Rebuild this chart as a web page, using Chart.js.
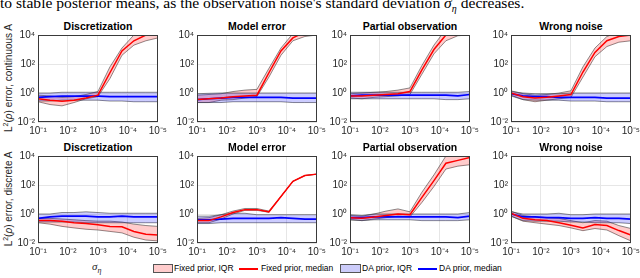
<!DOCTYPE html>
<html>
<head>
<meta charset="utf-8">
<script src="https://cdn.jsdelivr.net/npm/chart.js@4.4.0/dist/chart.umd.min.js"></script>
<style>
  body { margin:0; width:640px; height:278px; overflow:hidden; background:#fff; position:relative;
         font-family:"Liberation Sans", Arial, sans-serif; }
  canvas { position:absolute; }
  .title { position:absolute; width:160px; text-align:center; font-weight:bold; font-size:10.5px; line-height:12px; color:#000; }
  .ylab { position:absolute; font-size:10px; white-space:nowrap; color:#262626;
          transform:translate(-50%,-50%) rotate(-90deg); }
  .ylab sup { font-size:7px; }
  .top { position:absolute; left:0; top:-5px; white-space:nowrap; font-family:"Liberation Serif", serif; font-size:15.6px; line-height:15.6px; color:#000; }
  .leg { position:absolute; font-size:8.5px; line-height:10px; color:#000; white-space:nowrap; }
  .sw { position:absolute; height:7px; border:1px solid #555; }
  .ln { position:absolute; height:2px; }
  .sig { position:absolute; font-family:"Liberation Serif", serif; font-style:italic; font-size:11px; color:#262626; }
  .sig sub { font-size:8px; }
</style>
</head>
<body>
<div class="top">to stable posterior means, as the observation noise's standard deviation <i>σ</i><sub style="font-size:10px"><i>η</i></sub> decreases.</div>

<div class="sw" style="left:153px;top:264px;width:18px;background:rgb(255,204,204)"></div>
<div class="leg" style="left:174px;top:263px">Fixed prior, IQR</div>
<div class="ln" style="left:239px;top:268px;width:19px;background:#f00"></div>
<div class="leg" style="left:261px;top:263px">Fixed prior, median</div>
<div class="sw" style="left:340px;top:264px;width:19px;background:rgb(204,204,250)"></div>
<div class="leg" style="left:362px;top:263px">DA prior, IQR</div>
<div class="ln" style="left:418px;top:268px;width:19px;background:#00f"></div>
<div class="leg" style="left:439px;top:263px">DA prior, median</div>
<div class="sig" style="left:92px;top:260px">σ<sub>η</sub></div>

<script>
// sigma_eta values (x), decreasing
const sigma = [1e-1, 3.98e-2, 1.58e-2, 6.31e-3, 2.51e-3, 1e-3, 3.98e-4, 1.58e-4, 6.31e-5, 2.51e-5, 1e-5];
const xTicks = [1e-1, 1e-2, 1e-3, 1e-4, 1e-5];
const yTicks = [1e-2, 1, 1e2, 1e4];
const panelTitles = ['Discretization', 'Model error', 'Partial observation', 'Wrong noise'];
const rowLabels = ['continuous A', 'discrete A'];

// row 1: continuous A
const contDiscRedMed = [0.4, 0.32, 0.27, 0.32, 0.45, 0.71, 25, 790, 4000, 10000, 16000];
const contDiscRedLo = [0.25, 0.16, 0.13, 0.22, 0.4, 0.56, 10, 400, 2000, 4000, 6300];
const contDiscRedHi = [0.71, 0.63, 0.5, 0.56, 0.79, 1.26, 63, 1260, 10000, 25000, 40000];
const contDiscBlueMed = [0.5, 0.56, 0.6, 0.6, 0.6, 0.6, 0.56, 0.56, 0.56, 0.56, 0.56];
const contDiscBlueLo = [0.28, 0.28, 0.32, 0.32, 0.32, 0.32, 0.28, 0.28, 0.25, 0.25, 0.25];
const contDiscBlueHi = [1.0, 1.0, 1.12, 1.12, 1.12, 1.12, 1.12, 1.12, 1.12, 1.12, 1.12];

const contModelRedMed = [0.35, 0.4, 0.45, 0.56, 0.63, 0.71, 25, 790, 6300, 16000, 20000];
const contModelRedLo = [0.22, 0.22, 0.32, 0.35, 0.45, 0.56, 12.6, 400, 4000, 7900, 10000];
const contModelRedHi = [0.71, 0.79, 0.89, 1.26, 1.58, 1.78, 50, 1260, 12600, 31600, 40000];
const contModelBlueMed = [0.35, 0.4, 0.45, 0.5, 0.5, 0.5, 0.5, 0.5, 0.45, 0.45, 0.45];
const contModelBlueLo = [0.22, 0.22, 0.22, 0.25, 0.25, 0.25, 0.25, 0.25, 0.22, 0.22, 0.22];
const contModelBlueHi = [0.89, 0.95, 1.0, 1.0, 1.0, 1.0, 1.0, 1.0, 1.0, 1.0, 1.0];

const contPartRedMed = [0.63, 0.63, 0.71, 0.79, 0.89, 1.26, 40, 1000, 10000, 31600, 50000];
const contPartRedLo = [0.45, 0.4, 0.5, 0.56, 0.63, 0.79, 20, 500, 4000, 8900, 10000];
const contPartRedHi = [0.89, 1.0, 1.12, 1.26, 1.58, 2.24, 79, 2000, 25000, 63000, 100000];
const contPartBlueMed = [0.63, 0.71, 0.71, 0.71, 0.71, 0.71, 0.71, 0.71, 0.71, 0.63, 0.79];
const contPartBlueLo = [0.4, 0.4, 0.4, 0.4, 0.4, 0.4, 0.4, 0.4, 0.35, 0.35, 0.4];
const contPartBlueHi = [1.12, 1.12, 1.12, 1.12, 1.12, 1.12, 1.12, 1.12, 1.12, 1.12, 1.26];

const contNoiseRedMed = [1.0, 0.56, 0.45, 0.5, 0.63, 0.79, 28, 630, 4000, 7900, 10000];
const contNoiseRedLo = [0.71, 0.35, 0.25, 0.32, 0.4, 0.5, 12.6, 316, 1600, 3200, 4000];
const contNoiseRedHi = [1.41, 0.89, 0.71, 0.79, 1.0, 1.41, 63, 1260, 7900, 16000, 20000];
const contNoiseBlueMed = [0.89, 0.63, 0.56, 0.56, 0.5, 0.5, 0.5, 0.5, 0.45, 0.45, 0.45];
const contNoiseBlueLo = [0.63, 0.35, 0.32, 0.32, 0.32, 0.28, 0.28, 0.28, 0.25, 0.25, 0.25];
const contNoiseBlueHi = [1.26, 1.0, 0.89, 0.89, 0.89, 1.0, 1.0, 1.0, 1.0, 1.0, 1.0];

// row 2: discrete A
const discDiscRedMed = [0.35, 0.35, 0.32, 0.25, 0.22, 0.18, 0.14, 0.13, 0.063, 0.04, 0.035];
const discDiscRedLo = [0.25, 0.2, 0.14, 0.11, 0.089, 0.079, 0.063, 0.05, 0.025, 0.016, 0.014];
const discDiscRedHi = [0.5, 0.5, 0.45, 0.4, 0.35, 0.32, 0.32, 0.28, 0.2, 0.16, 0.14];
const discDiscBlueMed = [0.5, 0.63, 0.71, 0.71, 0.71, 0.63, 0.63, 0.71, 0.63, 0.63, 0.63];
const discDiscBlueLo = [0.28, 0.28, 0.28, 0.28, 0.25, 0.25, 0.25, 0.25, 0.25, 0.25, 0.25];
const discDiscBlueHi = [1.0, 1.0, 1.26, 1.26, 1.41, 1.26, 1.12, 1.12, 1.12, 1.12, 1.12];

const discModelRedMed = [0.35, 0.35, 0.63, 1.26, 2.0, 2.0, 1.41, 16, 178, 447, 562];
const discModelRedLo = [0.25, 0.25, 0.45, 1.0, 1.78, 1.78, 1.32, 16, 178, 447, 562];
const discModelRedHi = [0.5, 0.56, 0.89, 1.58, 2.4, 2.4, 1.58, 16, 178, 447, 562];
const discModelBlueMed = [0.4, 0.4, 0.45, 0.5, 0.5, 0.5, 0.5, 0.56, 0.5, 0.45, 0.45];
const discModelBlueLo = [0.22, 0.22, 0.25, 0.25, 0.25, 0.25, 0.25, 0.25, 0.25, 0.25, 0.25];
const discModelBlueHi = [0.71, 0.71, 0.89, 1.12, 1.12, 0.89, 0.89, 0.89, 0.89, 0.89, 0.89];

const discPartRedMed = [0.56, 0.5, 0.63, 0.79, 1.0, 0.89, 14, 200, 3160, 5000, 7900];
const discPartRedLo = [0.4, 0.35, 0.45, 0.56, 0.71, 0.63, 6.3, 79, 1260, 2000, 2500];
const discPartRedHi = [0.79, 0.71, 1.0, 1.58, 2.24, 1.41, 32, 500, 10000, 20000, 31600];
const discPartBlueMed = [0.56, 0.56, 0.63, 0.63, 0.63, 0.63, 0.63, 0.63, 0.63, 0.56, 0.71];
const discPartBlueLo = [0.4, 0.35, 0.4, 0.4, 0.4, 0.4, 0.35, 0.35, 0.35, 0.35, 0.4];
const discPartBlueHi = [0.89, 0.79, 1.0, 1.0, 1.0, 1.0, 1.0, 1.0, 1.0, 1.0, 1.26];

const discNoiseRedMed = [1.12, 0.5, 0.4, 0.35, 0.25, 0.17, 0.11, 0.19, 0.16, 0.072, 0.035];
const discNoiseRedLo = [0.71, 0.32, 0.25, 0.2, 0.16, 0.11, 0.071, 0.1, 0.079, 0.032, 0.014];
const discNoiseRedHi = [1.58, 0.79, 0.63, 0.56, 0.5, 0.35, 0.25, 0.35, 0.32, 0.16, 0.1];
const discNoiseBlueMed = [1.0, 0.63, 0.63, 0.56, 0.56, 0.5, 0.5, 0.56, 0.5, 0.5, 0.45];
const discNoiseBlueLo = [0.71, 0.35, 0.32, 0.32, 0.32, 0.28, 0.28, 0.25, 0.25, 0.25, 0.22];
const discNoiseBlueHi = [1.41, 1.0, 1.0, 1.0, 1.12, 0.89, 0.89, 1.0, 1.0, 1.0, 1.0];

const panels = [
  [contDiscRedMed, contDiscRedLo, contDiscRedHi, contDiscBlueMed, contDiscBlueLo, contDiscBlueHi],
  [contModelRedMed, contModelRedLo, contModelRedHi, contModelBlueMed, contModelBlueLo, contModelBlueHi],
  [contPartRedMed, contPartRedLo, contPartRedHi, contPartBlueMed, contPartBlueLo, contPartBlueHi],
  [contNoiseRedMed, contNoiseRedLo, contNoiseRedHi, contNoiseBlueMed, contNoiseBlueLo, contNoiseBlueHi],
  [discDiscRedMed, discDiscRedLo, discDiscRedHi, discDiscBlueMed, discDiscBlueLo, discDiscBlueHi],
  [discModelRedMed, discModelRedLo, discModelRedHi, discModelBlueMed, discModelBlueLo, discModelBlueHi],
  [discPartRedMed, discPartRedLo, discPartRedHi, discPartBlueMed, discPartBlueLo, discPartBlueHi],
  [discNoiseRedMed, discNoiseRedLo, discNoiseRedHi, discNoiseBlueMed, discNoiseBlueLo, discNoiseBlueHi]
];

// layout
const boxLefts = [38, 197, 350, 511];
const boxTops = [34, 155];
const boxW = 120, boxH = 88;
const padL = 30, padR = 12, padT = 8, padB = 18;

const sup = {'-': '⁻', '0': '⁰', '1': '¹', '2': '²', '3': '³', '4': '⁴', '5': '⁵'};
function tenPow(v) {
  const e = String(Math.round(Math.log10(v)));
  return '10' + e.split('').map(c => sup[c]).join('');
}

const edge = 'rgba(60,60,60,0.75)';
const tickColor = '#262626';

const boxPlugin = {
  id: 'box',
  afterDraw(chart) {
    const {ctx, chartArea: a} = chart;
    ctx.save();
    ctx.strokeStyle = '#3a3a3a';
    ctx.lineWidth = 1;
    ctx.strokeRect(Math.round(a.left) + 0.5, Math.round(a.top) + 0.5, Math.round(a.width) - 1, Math.round(a.height) - 1);
    ctx.restore();
  }
};

function pts(arr) {
  return arr.map((y, i) => ({x: sigma[i], y: y}));
}

panels.forEach((p, k) => {
  const row = Math.floor(k / 4), col = k % 4;
  const left = boxLefts[col], top = boxTops[row];

  const t = document.createElement('div');
  t.className = 'title';
  t.textContent = panelTitles[col];
  t.style.left = (left + boxW / 2 - 80) + 'px';
  t.style.top = (top - 14) + 'px';
  document.body.appendChild(t);

  if (col === 0) {
    const yl = document.createElement('div');
    yl.className = 'ylab';
    yl.innerHTML = 'L<sup>2</sup>(<i>ρ</i>) error, ' + rowLabels[row];
    yl.style.left = '8px';
    yl.style.top = (top + boxH / 2) + 'px';
    document.body.appendChild(yl);
  }

  const cv = document.createElement('canvas');
  const w = padL + boxW + padR, h = padT + boxH + padB;
  cv.width = w; cv.height = h;
  cv.style.width = w + 'px'; cv.style.height = h + 'px';
  cv.style.left = (left - padL) + 'px';
  cv.style.top = (top - padT) + 'px';
  document.body.appendChild(cv);

  const [redMed, redLo, redHi, blueMed, blueLo, blueHi] = p;

  new Chart(cv, {
    type: 'line',
    data: {
      datasets: [
        {data: pts(redMed), borderColor: '#ff0000', borderWidth: 1.5, fill: false},
        {data: pts(blueMed), borderColor: '#0000ff', borderWidth: 1.7, fill: false},
        {data: pts(blueHi), borderColor: edge, borderWidth: 0.8, backgroundColor: 'rgba(0,0,255,0.2)', fill: 3},
        {data: pts(blueLo), borderColor: edge, borderWidth: 0.8, fill: false},
        {data: pts(redHi), borderColor: edge, borderWidth: 0.8, backgroundColor: 'rgba(255,0,0,0.2)', fill: 5},
        {data: pts(redLo), borderColor: edge, borderWidth: 0.8, fill: false}
      ]
    },
    options: {
      responsive: false,
      animation: false,
      devicePixelRatio: 1,
      layout: {padding: {top: padT, right: padR, left: 0, bottom: 0}},
      elements: {point: {radius: 0}, line: {tension: 0}},
      plugins: {legend: {display: false}, tooltip: {enabled: false}},
      scales: {
        x: {
          type: 'logarithmic', reverse: true, min: 1e-5, max: 1e-1,
          afterBuildTicks: s => { s.ticks = xTicks.map(v => ({value: v})); },
          afterFit: s => { s.height = padB; },
          ticks: {callback: v => tenPow(v), font: {size: 10, family: 'Liberation Sans'}, color: tickColor,
                  maxRotation: 0, autoSkip: false, padding: 3},
          grid: {color: '#e6e6e6', drawTicks: false},
          border: {display: false}
        },
        y: {
          type: 'logarithmic', min: 1e-2, max: 1e4,
          afterBuildTicks: s => { s.ticks = yTicks.map(v => ({value: v})); },
          afterFit: s => { s.width = padL; },
          ticks: {callback: v => tenPow(v), font: {size: 10, family: 'Liberation Sans'}, color: tickColor,
                  autoSkip: false, padding: 3},
          grid: {color: '#e6e6e6', drawTicks: false},
          border: {display: false}
        }
      }
    },
    plugins: [boxPlugin]
  });
});
</script>
</body>
</html>
